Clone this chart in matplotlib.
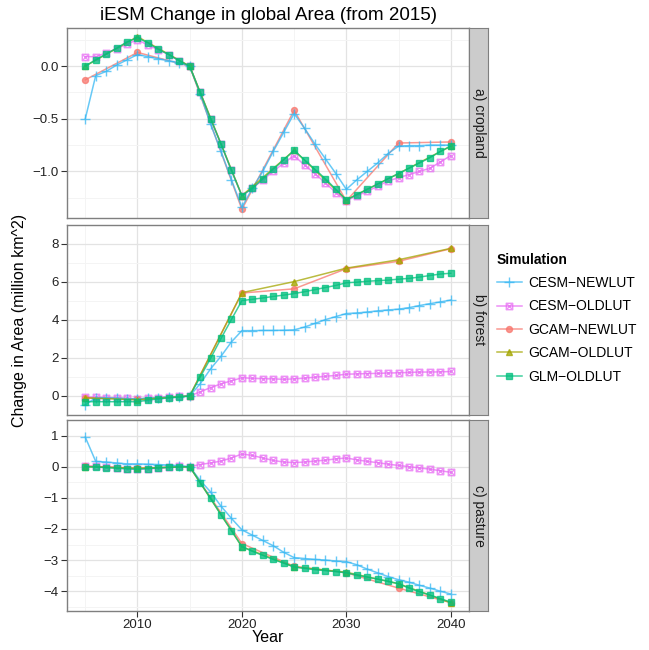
import numpy as np
import matplotlib
matplotlib.use("Agg")
import matplotlib.pyplot as plt
from matplotlib.path import Path
from matplotlib.lines import Line2D

plt.rcParams['font.family'] = ['Liberation Sans', 'DejaVu Sans']

# Data (million km^2, change from 2015)
years = list(range(2005, 2041))
years5 = list(range(2005, 2041, 5))

sims = ["CESM\u2212NEWLUT", "CESM\u2212OLDLUT", "GCAM\u2212NEWLUT", "GCAM\u2212OLDLUT", "GLM\u2212OLDLUT"]
panels = ["a) cropland", "b) forest", "c) pasture"]

crop_cesm_new = [-0.50, -0.09, -0.05, 0.01, 0.06, 0.11, 0.09, 0.07, 0.05, 0.03, 0.0, -0.26, -0.55, -0.81, -1.08, -1.34,
                 -1.16, -1.00, -0.81, -0.63, -0.45, -0.59, -0.74, -0.88, -1.02, -1.17, -1.08, -1.00, -0.92, -0.83, -0.76,
                 -0.755, -0.755, -0.75, -0.75, -0.75]
crop_cesm_old = [0.09, 0.09, 0.125, 0.165, 0.21, 0.25, 0.20, 0.155, 0.11, 0.05, 0.0, -0.25, -0.50, -0.74, -0.99, -1.23,
                 -1.16, -1.08, -1.00, -0.92, -0.85, -0.94, -1.02, -1.11, -1.20, -1.28, -1.23, -1.19, -1.14, -1.09, -1.06,
                 -1.03, -1.00, -0.97, -0.91, -0.85]
crop_gcam_new = [-0.13, 0.13, 0.0, -1.36, -0.42, -1.28, -0.73, -0.72]
crop_gcam_old = [0.0, 0.28, 0.0, -1.23, -0.80, -1.27, -1.02, -0.76]
crop_glm_old = [0.0, 0.06, 0.115, 0.17, 0.23, 0.27, 0.22, 0.16, 0.11, 0.05, 0.0, -0.25, -0.50, -0.74, -0.99, -1.23,
                -1.16, -1.07, -0.98, -0.89, -0.80, -0.89, -0.98, -1.07, -1.17, -1.27, -1.22, -1.17, -1.12, -1.07, -1.02,
                -0.97, -0.92, -0.87, -0.81, -0.76]

forest_cesm_new = [-0.46, -0.10, -0.10, -0.12, -0.14, -0.15, -0.12, -0.10, -0.05, -0.03, 0.0, 0.64, 1.43, 2.09, 2.85, 3.44,
                   3.44, 3.45, 3.45, 3.46, 3.48, 3.63, 3.82, 4.02, 4.18, 4.34, 4.37, 4.42, 4.48, 4.53, 4.57,
                   4.65, 4.76, 4.86, 4.95, 5.05]
forest_cesm_old = [-0.06, -0.06, -0.08, -0.10, -0.12, -0.15, -0.12, -0.08, -0.04, -0.02, 0.0, 0.22, 0.44, 0.64, 0.80, 0.96,
                   0.93, 0.91, 0.90, 0.88, 0.90, 0.94, 0.99, 1.04, 1.08, 1.15, 1.16, 1.18, 1.19, 1.21, 1.22,
                   1.24, 1.26, 1.26, 1.27, 1.29]
forest_gcam_new = [-0.09, -0.16, 0.0, 5.42, 5.64, 6.70, 7.09, 7.75]
forest_gcam_old = [-0.10, -0.20, 0.0, 5.44, 6.02, 6.73, 7.17, 7.77]
forest_glm_old = [-0.30, -0.30, -0.30, -0.30, -0.30, -0.30, -0.22, -0.15, -0.10, -0.05, 0.0, 0.99, 1.98, 3.03, 4.03, 5.02,
                  5.09, 5.16, 5.24, 5.31, 5.39, 5.49, 5.60, 5.71, 5.82, 5.96, 5.99, 6.04, 6.07, 6.10, 6.15,
                  6.19, 6.26, 6.34, 6.42, 6.46]

past_cesm_new = [0.95, 0.17, 0.15, 0.12, 0.09, 0.09, 0.08, 0.07, 0.05, 0.03, 0.0, -0.44, -0.81, -1.27, -1.66, -2.03,
                 -2.20, -2.37, -2.54, -2.75, -2.92, -2.95, -2.98, -3.00, -3.03, -3.05, -3.15, -3.29, -3.41, -3.53, -3.63,
                 -3.71, -3.81, -3.90, -4.00, -4.09]
past_cesm_old = [0.02, 0.01, -0.01, -0.03, -0.06, -0.08, -0.07, -0.05, -0.02, 0.01, 0.0, 0.07, 0.12, 0.18, 0.28, 0.41,
                 0.36, 0.28, 0.20, 0.15, 0.13, 0.15, 0.18, 0.21, 0.25, 0.28, 0.22, 0.17, 0.13, 0.08, 0.04,
                 0.0, -0.04, -0.08, -0.13, -0.18]
past_gcam_new = [0.02, -0.05, 0.0, -2.47, -3.20, -3.41, -3.90, -4.37]
past_gcam_old = [0.0, -0.05, 0.0, -2.57, -3.22, -3.39, -3.76, -4.37]
past_glm_old = [0.0, -0.01, -0.03, -0.05, -0.07, -0.08, -0.06, -0.04, -0.02, -0.01, 0.0, -0.51, -1.02, -1.55, -2.05, -2.57,
                -2.72, -2.85, -2.98, -3.10, -3.22, -3.27, -3.31, -3.34, -3.37, -3.41, -3.48, -3.55, -3.61, -3.68, -3.76,
                -3.90, -4.02, -4.12, -4.24, -4.35]

data = [
    [crop_cesm_new, crop_cesm_old, crop_gcam_new, crop_gcam_old, crop_glm_old],
    [forest_cesm_new, forest_cesm_old, forest_gcam_new, forest_gcam_old, forest_glm_old],
    [past_cesm_new, past_cesm_old, past_gcam_new, past_gcam_old, past_glm_old],
]
ymajor = [[0.0, -0.5, -1.0], [0, 2, 4, 6, 8], [1, 0, -1, -2, -3, -4]]
ylabels = [["0.0", "\u22120.5", "\u22121.0"], ["0", "2", "4", "6", "8"],
           ["1", "0", "\u22121", "\u22122", "\u22123", "\u22124"]]

# Styles
colors = ["#35B7F3", "#E76BF3", "#F8766D", "#A3A500", "#00BF7D"]
# square with an x inside (ggplot shape 7)
boxx = Path([(-1, -1), (1, -1), (1, 1), (-1, 1), (-1, -1), (-1, -1), (1, 1), (-1, 1), (1, -1)],
            [Path.MOVETO, Path.LINETO, Path.LINETO, Path.LINETO, Path.CLOSEPOLY,
             Path.MOVETO, Path.LINETO, Path.MOVETO, Path.LINETO])
markers = ["+", boxx, "o", "^", "s"]
msizes = [6.5, 4.6, 4.3, 4.8, 4.8]
zorders = [4, 2, 3, 5, 6]

fig = plt.figure(figsize=(6.49, 6.5), dpi=100)

W, H = 649.0, 650.0
left, right = 67, 469
tops = [28, 225, 420]
bots = [218, 415, 611]

for p in range(3):
    ax = fig.add_axes([left / W, 1 - bots[p] / H, (right - left) / W, (bots[p] - tops[p]) / H])
    allv = []
    for s in range(5):
        yv = data[p][s]
        xv = years5 if len(yv) == 8 else years
        allv += yv
        mfc = "none" if s == 1 else colors[s]
        ax.plot(xv, yv, color=colors[s], alpha=0.75, lw=1.1, marker=markers[s], ms=msizes[s],
                mfc=mfc, mec=colors[s], mew=1.0, zorder=zorders[s], clip_on=False)
    lo, hi = min(allv), max(allv)
    pad = 0.05 * (hi - lo)
    ax.set_ylim(lo - pad, hi + pad)
    ax.set_xlim(2003.25, 2041.75)

    ax.set_yticks(ymajor[p])
    ax.set_yticklabels(ylabels[p])
    ymin_t = np.array(ymajor[p])
    step = abs(ymajor[p][1] - ymajor[p][0])
    ax.set_yticks(np.arange(min(ymin_t) - step / 2, max(ymin_t) + step, step), minor=True)
    ax.set_xticks([2010, 2020, 2030, 2040])
    ax.set_xticks([2005, 2015, 2025, 2035], minor=True)
    if p < 2:
        ax.set_xticklabels([])
        ax.tick_params(axis="x", length=0)
    else:
        ax.tick_params(axis="x", length=4, color="#333333")
    ax.tick_params(axis="y", length=4, color="#333333")
    ax.tick_params(labelsize=9.5, labelcolor="#222222", pad=2)
    ax.tick_params(which="minor", length=0)
    ax.grid(True, which="major", color="#E3E3E3", lw=0.9)
    ax.grid(True, which="minor", color="#F4F4F4", lw=0.7)
    ax.set_axisbelow(True)
    for sp in ax.spines.values():
        sp.set_color("#7F7F7F")
        sp.set_linewidth(1.0)

    # facet strip on the right
    sax = fig.add_axes([right / W, 1 - bots[p] / H, 19 / W, (bots[p] - tops[p]) / H])
    sax.set_facecolor("#CCCCCC")
    sax.set_xticks([])
    sax.set_yticks([])
    for sp in sax.spines.values():
        sp.set_color("#7F7F7F")
    sax.text(0.5, 0.5, panels[p], rotation=-90, ha="center", va="center", fontsize=10, color="#1A1A1A",
             transform=sax.transAxes)

fig.text(268 / W, 1 - 16 / H, "iESM Change in global Area (from 2015)", ha="center", va="center", fontsize=13.5)
fig.text(268 / W, 1 - 638 / H, "Year", ha="center", va="center", fontsize=11.5)
fig.text(20 / W, 1 - 320 / H, "Change in Area (million km^2)", rotation=90, ha="center", va="center", fontsize=11.5)

# legend
handles = []
for s in range(5):
    mfc = "none" if s == 1 else colors[s]
    handles.append(Line2D([], [], color=colors[s], alpha=0.75, lw=1.1, marker=markers[s], ms=msizes[s],
                          mfc=mfc, mec=colors[s], mew=1.0))
leg = fig.legend(handles, sims, loc="upper left", bbox_to_anchor=(484 / W, 1 - 240 / H), frameon=False,
                 title="Simulation", fontsize=10, handlelength=1.8, labelspacing=0.68, handletextpad=0.5,
                 alignment="left")
leg.get_title().set_fontweight("bold")
leg.get_title().set_fontsize(10)

fig.savefig("out.png", dpi=100)
